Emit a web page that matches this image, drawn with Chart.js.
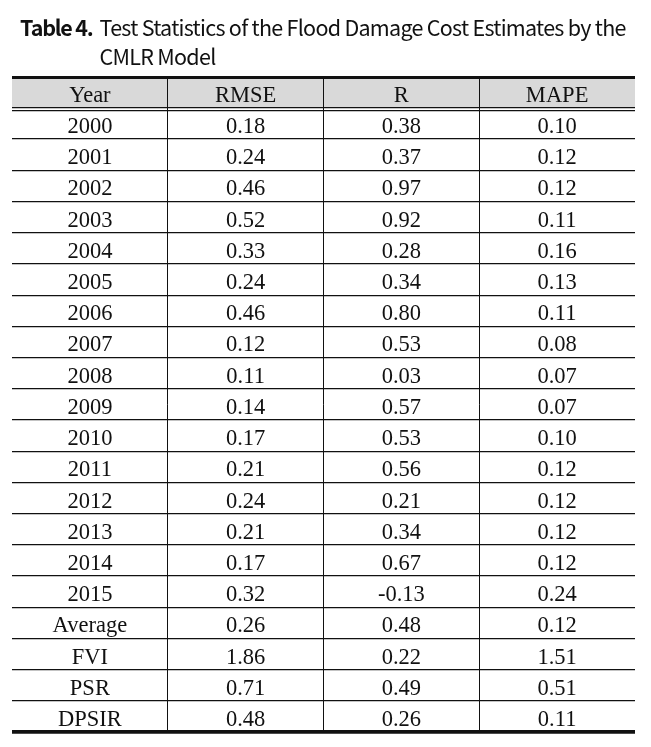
<!DOCTYPE html>
<html>
<head>
<meta charset="utf-8">
<script src="https://cdn.jsdelivr.net/npm/chart.js@4/dist/chart.umd.min.js"></script>
<style>
    html, body { margin: 0; padding: 0; background: #fff; }
    #wrap { position: relative; width: 651px; height: 747px; }
    #title {
        position: absolute; left: 20px; top: 11.5px; width: 631px;
        display: flex; color: #111; white-space: nowrap;
        font-family: "Noto Sans CJK KR", "Noto Sans", sans-serif;
        font-size: 21.5px; line-height: 29px; letter-spacing: -0.72px;
    }
    #title b { flex: none; margin-right: 7px; letter-spacing: -1.2px; }
    #table { position: absolute; left: 0; top: 0; }
</style>
</head>
<body>
<div id="wrap">
    <canvas id="table" width="651" height="747"></canvas>
    <div id="title"><b>Table 4.</b><span>Test Statistics of the Flood Damage Cost Estimates by the<br>CMLR Model</span></div>
</div>
<script>
    'use strict';

    // Table content
    const columns = ['Year', 'RMSE', 'R', 'MAPE'];
    const rowLabels = ['2000', '2001', '2002', '2003', '2004', '2005', '2006', '2007',
        '2008', '2009', '2010', '2011', '2012', '2013', '2014', '2015',
        'Average', 'FVI', 'PSR', 'DPSIR'];
    const rmse = [0.18, 0.24, 0.46, 0.52, 0.33, 0.24, 0.46, 0.12, 0.11, 0.14,
        0.17, 0.21, 0.24, 0.21, 0.17, 0.32, 0.26, 1.86, 0.71, 0.48];
    const rValues = [0.38, 0.37, 0.97, 0.92, 0.28, 0.34, 0.80, 0.53, 0.03, 0.57,
        0.53, 0.56, 0.21, 0.34, 0.67, -0.13, 0.48, 0.22, 0.49, 0.26];
    const mape = [0.10, 0.12, 0.12, 0.11, 0.16, 0.13, 0.11, 0.08, 0.07, 0.07,
        0.10, 0.12, 0.12, 0.12, 0.12, 0.24, 0.12, 1.51, 0.51, 0.11];

    // header band sits above row 0 on the y scale
    const HEADER_TOP = -0.97;
    const serif = "'Liberation Serif', 'Times New Roman', serif";

    function cellPoints(col, values) {
        return values.map((v, i) => ({ x: col + 0.5, y: i + 0.5, text: v }));
    }

    const datasets = [
        cellPoints(0, rowLabels),
        cellPoints(1, rmse.map(v => v.toFixed(2))),
        cellPoints(2, rValues.map(v => v.toFixed(2))),
        cellPoints(3, mape.map(v => v.toFixed(2)))
    ].map(pts => ({ data: pts, pointRadius: 0, pointHoverRadius: 0, showLine: false }));

    // draws header band, header labels and cell text at the points the scales place
    const tablePlugin = {
        id: 'tableCells',
        beforeDraw(chart) {
            const { ctx, chartArea, scales } = chart;
            const top = scales.y.getPixelForValue(HEADER_TOP);
            const bottom = scales.y.getPixelForValue(0);
            ctx.save();
            ctx.fillStyle = '#d9d9d9';
            ctx.fillRect(chartArea.left, top, chartArea.right - chartArea.left, bottom - top);
            ctx.restore();
        },
        afterDatasetsDraw(chart) {
            const { ctx, scales } = chart;
            ctx.save();
            ctx.font = '22.5px ' + serif;
            ctx.fillStyle = '#111';
            ctx.textAlign = 'center';
            ctx.textBaseline = 'alphabetic';
            const headY = scales.y.getPixelForValue(HEADER_TOP / 2);
            columns.forEach((name, c) => {
                ctx.fillText(name, scales.x.getPixelForValue(c + 0.5), headY + 9);
            });
            chart.data.datasets.forEach((ds, di) => {
                chart.getDatasetMeta(di).data.forEach((pt, i) => {
                    ctx.fillText(ds.data[i].text, pt.x, pt.y + 9.5);
                });
            });
            ctx.restore();
        }
    };

    new Chart(document.getElementById('table'), {
        type: 'scatter',
        data: { datasets: datasets },
        plugins: [tablePlugin],
        options: {
            responsive: false,
            animation: false,
            events: [],
            layout: { padding: { left: 12, right: 16, top: 77.5, bottom: 14.8 } },
            plugins: { legend: { display: false }, tooltip: { enabled: false } },
            scales: {
                x: {
                    type: 'linear', min: 0, max: 4,
                    afterBuildTicks: axis => { axis.ticks = [0, 1, 2, 3, 4].map(v => ({ value: v })); },
                    ticks: { display: false },
                    border: { display: false },
                    grid: {
                        drawTicks: false,
                        lineWidth: 1,
                        color: c => (c.tick.value === 0 || c.tick.value === 4) ? 'rgba(0,0,0,0)' : '#111'
                    }
                },
                y: {
                    type: 'linear', reverse: true, min: HEADER_TOP, max: rowLabels.length,
                    afterBuildTicks: axis => {
                        const edges = [HEADER_TOP, 0, 0.1];
                        for (let i = 1; i <= rowLabels.length; i++) edges.push(i);
                        axis.ticks = edges.map(v => ({ value: v }));
                    },
                    ticks: { display: false },
                    border: { display: false },
                    grid: {
                        drawTicks: false,
                        color: '#111',
                        lineWidth: c => c.tick.value === HEADER_TOP ? 3 :
                            (c.tick.value === rowLabels.length ? 3.8 : 1.2)
                    }
                }
            }
        }
    });
</script>
</body>
</html>
